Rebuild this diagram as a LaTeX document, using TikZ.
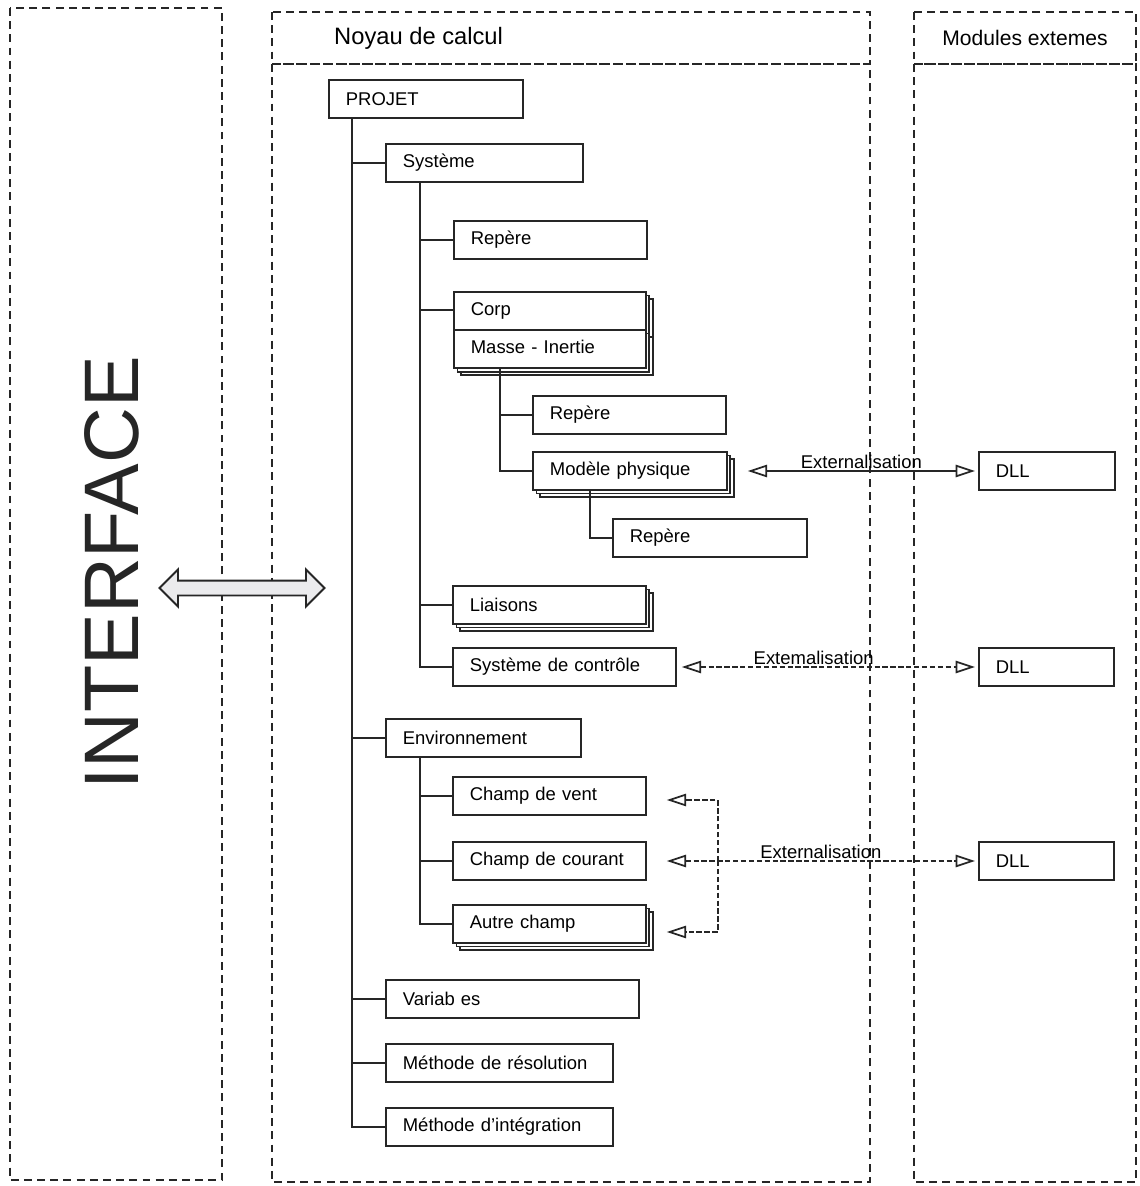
\documentclass[tikz,border=0pt]{standalone}
\usepackage{fontspec}
\setmainfont{Liberation Sans}
\usetikzlibrary{shapes,arrows.meta,positioning,calc,shadows}

\begin{document}
\begin{tikzpicture}[x=0.02cm, y=-0.02cm,
  bloc/.style={draw=black!85, fill=white, line width=1pt, anchor=west, minimum height=0.76cm, text width=#1, inner xsep=0.34cm, align=left, font=\fontsize{10.5}{12}\selectfont},
  pile/.style={copy shadow={shadow xshift=4pt, shadow yshift=-4pt}, copy shadow={shadow xshift=2pt, shadow yshift=-2pt}},
  cadre/.style={draw=black!85, line width=1.4pt, dash pattern=on 4.5pt off 3pt},
  branche/.style={draw=black!85, line width=1pt},
  pointe/.tip={Triangle[open, length=11pt, width=7pt]},
  ext/.style={draw=black!85, line width=1pt, pointe-pointe},
  extd/.style={ext, dash pattern=on 3pt off 1.5pt},
  retour/.style={draw=black!85, line width=1pt, dash pattern=on 3pt off 1.5pt, -pointe},
  etiq/.style={font=\fontsize{10.5}{12}\selectfont, inner sep=1pt}]
\useasboundingbox (0,0) rectangle (1139,1186);

% cadres
\draw[cadre] (10,8) rectangle (222,1180);
\draw[cadre] (272,12) rectangle (870,64);
\draw[cadre] (272,64) rectangle (870,1182);
\draw[cadre] (914,12) rectangle (1136,64);
\draw[cadre] (914,64) rectangle (1136,1182);

\node[rotate=90, text=black!85, font=\fontsize{44}{44}\selectfont] (interface) at (112,573) {INTERFACE};
\node[anchor=west, font=\fontsize{13.5}{16}\selectfont] (noyau) at (328,38) {Noyau de calcul};
\node[font=\fontsize{12}{14}\selectfont] (modules) at (1025,38) {Modules extemes};

\node[double arrow, draw=black!85, line width=1.1pt, fill=blue!5!gray!15, minimum height=3.3cm, inner sep=0pt, text height=0.13cm, text depth=0.13cm, double arrow head extend=0.22cm] (echange) at (242,588) {};

% arbre
\node[bloc=3.20cm] (projet) at (328,99) {PROJET};
\node[bloc=3.26cm] (systeme) at (385,163) {Système};
\node[bloc=3.18cm] (repA) at (453,240) {Repère};
\node[bloc=3.16cm, pile, rectangle split, rectangle split parts=2, anchor=north west, inner ysep=4.35pt] (corp) at (453,291) {\strut Corp \nodepart{two}\strut Masse - Inertie};
\node[bloc=3.18cm] (repB) at (532,415) {Repère};
\node[bloc=3.20cm, pile] (modele) at (532,471) {Modèle physique};
\node[bloc=3.20cm] (repC) at (612,538) {Repère};
\node[bloc=3.18cm, pile] (liaisons) at (452,605) {Liaisons};
\node[bloc=3.78cm] (ctrl) at (452,667) {Système de contrôle};
\node[bloc=3.22cm] (env) at (385,738) {Environnement};
\node[bloc=3.18cm] (vent) at (452,796) {Champ de vent};
\node[bloc=3.18cm] (courant) at (452,861) {Champ de courant};
\node[bloc=3.18cm, pile] (autre) at (452,924) {Autre champ};
\node[bloc=4.38cm] (var) at (385,999) {Variab es};
\node[bloc=3.86cm] (resol) at (385,1063) {Méthode de résolution};
\node[bloc=3.86cm] (integ) at (385,1127) {Méthode d'intégration};

\node[bloc=2.04cm] (dllA) at (978,471) {DLL};
\node[bloc=2.02cm] (dllB) at (978,667) {DLL};
\node[bloc=2.02cm] (dllC) at (978,861) {DLL};

\foreach \n in {systeme, env, var, resol, integ}
  \draw[branche] ($(projet.south west)+(24,0)$) |- (\n.west);
\foreach \n in {repA, liaisons, ctrl}
  \draw[branche] ($(systeme.south west)+(35,0)$) |- (\n.west);
\draw[branche] ($(systeme.south west)+(35,0)$) |- ($(corp.north west)+(0,19)$);
\foreach \n in {repB, modele}
  \draw[branche] ($(corp.south west)+(47,0)$) |- (\n.west);
\draw[branche] ($(modele.south west)+(58,0)$) |- (repC.west);
\foreach \n in {vent, courant, autre}
  \draw[branche] ($(env.south west)+(35,0)$) |- (\n.west);

% externalisation
\draw[ext] ($(modele.east)+(20,0)$) -- node[etiq, above]{Externalisation} ($(modele.east -| dllA.west)+(-3,0)$);
\draw[extd] ($(ctrl.east)+(5,0)$) -- node[etiq, above, pos=0.45]{Extemalisation} ($(dllB.west)+(-3,0)$);
\draw[extd] ($(courant.east)+(20,0)$) -- node[etiq, above]{Externalisation} ($(dllC.west)+(-3,0)$);
\coordinate (fourche) at ($(courant.east)+(71,0)$);
\draw[retour] (fourche) |- ($(vent.east)+(20,4)$);
\draw[retour] (fourche) |- ($(autre.east)+(20,8)$);
\end{tikzpicture}
\end{document}
